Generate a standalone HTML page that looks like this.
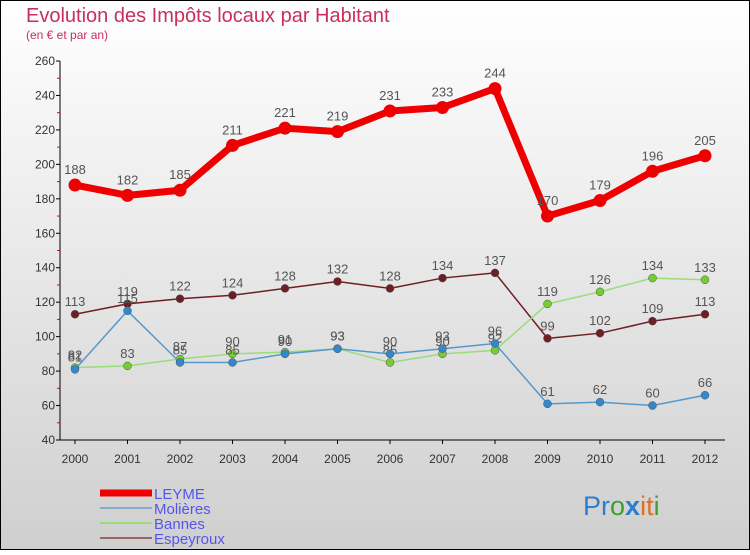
<!DOCTYPE html>
<html><head><meta charset="utf-8"><style>
html,body{margin:0;padding:0}
body{width:750px;height:550px;overflow:hidden;font-family:"Liberation Sans",sans-serif}
</style></head><body>
<svg id="chart" width="750" height="550" xmlns="http://www.w3.org/2000/svg" font-family="Liberation Sans, sans-serif">
<defs><linearGradient id="bg" x1="0" y1="0" x2="0" y2="1"><stop offset="0" stop-color="#ffffff"/><stop offset="1" stop-color="#cfcfcf"/></linearGradient></defs>
<rect x="0.5" y="0.5" width="749" height="549" fill="url(#bg)" stroke="#000"/>
<text x="26" y="22" font-size="20" fill="#c8305a">Evolution des Impôts locaux par Habitant</text>
<text x="26" y="39" font-size="12" fill="#c8305a">(en € et par an)</text>
<g id="axes"></g>
<g id="series"></g>
<g id="legend"></g>
<text x="583" y="515" font-size="27"><tspan fill="#2a7fd0">Pr</tspan><tspan fill="#3aa030">o</tspan><tspan fill="#2a7fd0" font-weight="bold">x</tspan><tspan fill="#e07020">i</tspan><tspan fill="#e07020">t</tspan><tspan fill="#3aa030">i</tspan></text>
</svg>
<script>
const years=[2000,2001,2002,2003,2004,2005,2006,2007,2008,2009,2010,2011,2012];
const leyme=[188,182,185,211,221,219,231,233,244,170,179,196,205];
const molieres=[81,115,85,85,90,93,90,93,96,61,62,60,66];
const bannes=[82,83,87,90,91,93,85,90,92,119,126,134,133];
const espeyroux=[113,119,122,124,128,132,128,134,137,99,102,109,113];
const yTicks=[40,60,80,100,120,140,160,180,200,220,240,260];
const NS="http://www.w3.org/2000/svg";
const x=i=>75+i*52.5;
const y=v=>440-(v-40)*(379/220);
function mk(tag,attrs,parent){const e=document.createElementNS(NS,tag);for(const k in attrs)e.setAttribute(k,attrs[k]);parent.appendChild(e);return e;}
const axes=document.getElementById('axes');
let l=mk('line',{x1:60,y1:y(260),x2:60,y2:440,stroke:'#000'},axes);


l=mk('line',{x1:60,y1:440,x2:725,y2:440,stroke:'#000'},axes);


yTicks.forEach(v=>{
 mk('line',{x1:56,y1:y(v),x2:60,y2:y(v),stroke:'#000'},axes);
 if(v<260)mk('line',{x1:57,y1:y(v+10),x2:60,y2:y(v+10),stroke:'#e00'},axes);
 const t=mk('text',{x:55,y:y(v)+4,'font-size':12,'text-anchor':'end',fill:'#333'},axes);t.textContent=v;
 
 
});
years.forEach((yr,i)=>{
 mk('line',{x1:x(i),y1:440,x2:x(i),y2:444,stroke:'#000'},axes);
 const t=mk('text',{x:x(i),y:463,'font-size':12,'text-anchor':'middle',fill:'#333'},axes);t.textContent=yr;
 
 
});
const series=[
 {name:'espeyroux',data:espeyroux,color:'#6e1f24',w:1.5,r:4},
 {name:'bannes',data:bannes,color:'#99dd77',w:1.5,r:4,fill:'#77cc33'},
 {name:'molieres',data:molieres,color:'#5599cc',w:1.5,r:4,fill:'#3388cc'},
 {name:'leyme',data:leyme,color:'#ee0000',w:7,r:6.5}
];
const sg=document.getElementById('series');
series.forEach(s=>{
 const g=mk('g',{},sg);
 
 
 const p=mk('polyline',{points:s.data.map((v,i)=>x(i)+','+y(v)).join(' '),fill:'none',stroke:s.color,'stroke-width':s.w,'stroke-linejoin':'round'},g);
 
 
 s.data.forEach((v,i)=>{
  const c=mk('circle',{cx:x(i),cy:y(v),r:s.r,fill:s.fill||s.color,stroke:s.r<5?'#555':'none','stroke-width':0.5},g);
  
  
  const t=mk('text',{x:x(i),y:y(v)-(s.r>5?11:8),'font-size':13,'text-anchor':'middle',fill:'#555'},g);t.textContent=v;
  
  
 });
});
const lg=document.getElementById('legend');
const leg=[['LEYME','#ee0000',7],['Molières','#88aacc',2],['Bannes','#99dd77',2],['Espeyroux','#996666',2]];
leg.forEach((e,i)=>{
 const yy=493+i*15;
 const g=mk('g',{},lg);
 
 
 mk('line',{x1:100,y1:yy,x2:152,y2:yy,stroke:e[1],'stroke-width':e[2]},g);
 const t=mk('text',{x:154,y:yy+6,'font-size':15,fill:'#5555ee'},g);t.textContent=e[0];
});
</script>
</body></html>
